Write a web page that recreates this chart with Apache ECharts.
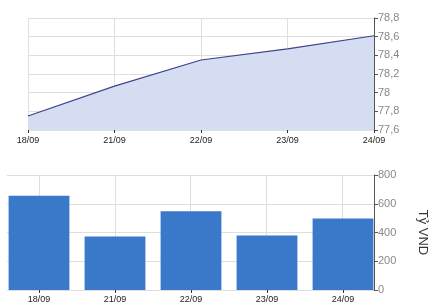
<!DOCTYPE html>
<html>
<head>
<meta charset="utf-8">
<script src="https://cdn.jsdelivr.net/npm/echarts@6/dist/echarts.min.js"></script>
<style>
  html, body { margin: 0; padding: 0; background: #fff; }
  #chart { width: 437px; height: 304px; }
</style>
</head>
<body>
<div id="chart"></div>
<script>
const ngay = ["18/09", "21/09", "22/09", "23/09", "24/09"];
const tyGia = [77.75, 78.07, 78.35, 78.47, 78.61];
const giaTri = [655, 372, 548, 380, 498];

const chart = echarts.init(document.getElementById("chart"));

const nhanX = { fontSize: 9, color: "#222", fontFamily: "Arial", margin: 6 };
const nhanY = { fontSize: 11, color: "#888", fontFamily: "Arial", margin: 4 };
const luoi = { show: true, lineStyle: { color: "#dedede", width: 1 } };
const an = { show: false };

chart.setOption({
  animation: false,
  grid: [
    { left: 28, right: 63, top: 18, height: 112 },
    { left: 1, right: 56, top: 175, height: 115 },
    // lưới ngang của biểu đồ cột
    { left: 7, right: 63, top: 175, height: 115 },
    // lưới dọc qua giữa các cột
    { left: 39, right: 95, top: 175, height: 115 },
  ],
  xAxis: [
    {
      gridIndex: 0,
      type: "category",
      data: ngay,
      boundaryGap: false,
      axisLine: an,
      axisTick: { show: true, length: 3, lineStyle: { color: "#333" } },
      axisLabel: nhanX,
      splitLine: luoi,
    },
    {
      gridIndex: 1,
      type: "category",
      data: ngay,
      axisLine: an,
      axisTick: { show: true, alignWithLabel: true, length: 3, lineStyle: { color: "#333" } },
      axisLabel: { ...nhanX, margin: 5 },
      splitLine: an,
    },
    { gridIndex: 2, type: "value", show: false },
    {
      gridIndex: 3,
      type: "category",
      data: ngay,
      boundaryGap: false,
      axisLine: an,
      axisTick: an,
      axisLabel: an,
      splitLine: luoi,
    },
  ],
  yAxis: [
    {
      gridIndex: 0,
      type: "value",
      position: "right",
      min: 77.6,
      max: 78.8,
      interval: 0.2,
      axisLine: { show: true, lineStyle: { color: "#555" } },
      axisTick: { show: true, length: 4, lineStyle: { color: "#555" } },
      axisLabel: {
        ...nhanY,
        formatter: (v) => String(+v.toFixed(1)).replace(".", ","),
      },
      splitLine: luoi,
    },
    {
      gridIndex: 1,
      type: "value",
      position: "right",
      offset: -7,
      min: 0,
      max: 800,
      interval: 200,
      name: "Tỷ VND",
      nameLocation: "middle",
      nameRotate: -90,
      nameGap: 42,
      nameTextStyle: { fontSize: 13, color: "#333", fontFamily: "Arial" },
      axisLine: { show: true, lineStyle: { color: "#555" } },
      axisTick: { show: true, length: 4, lineStyle: { color: "#555" } },
      axisLabel: nhanY,
      splitLine: an,
    },
    {
      gridIndex: 2,
      type: "value",
      min: 0,
      max: 800,
      interval: 200,
      axisLine: an,
      axisTick: an,
      axisLabel: an,
      splitLine: luoi,
    },
    { gridIndex: 3, type: "value", show: false, splitLine: an },
  ],
  series: [
    {
      type: "line",
      xAxisIndex: 0,
      yAxisIndex: 0,
      data: tyGia,
      showSymbol: false,
      lineStyle: { color: "#41418a", width: 1.2 },
      areaStyle: { color: "#d5ddf3", opacity: 1 },
    },
    {
      type: "bar",
      xAxisIndex: 1,
      yAxisIndex: 1,
      data: giaTri,
      barCategoryGap: "20%",
      itemStyle: { color: "#3a78c9" },
      z: 3,
    },
  ],
});
</script>
</body>
</html>
